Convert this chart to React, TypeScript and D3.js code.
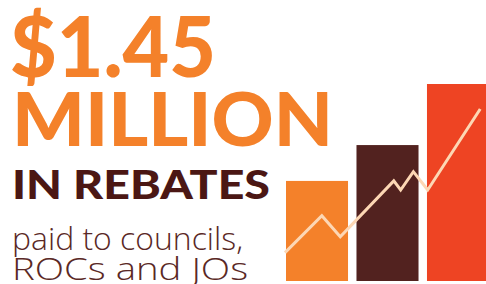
import React, { useRef, useEffect } from 'react';
import * as d3 from 'd3';

// bars (relative heights)
const categories = ['first', 'second', 'third'];
const barValues = [50.8, 69, 100];
const barColors = ['#F4812A', '#52221F', '#EE4423'];

// trend line over the bars
const lineX = [0, 18.8, 28.2, 55.5, 59, 65.5, 72.8, 99.6];
const lineY = [14.4, 33.1, 22.5, 50.8, 46.2, 55.5, 46.2, 87.3];

const W = 486;
const H = 284;

const App = () => {
  const svgRef = useRef<SVGSVGElement | null>(null);

  useEffect(() => {
    const svg = d3.select(svgRef.current);
    svg.selectAll('*').remove();

    const x = d3.scaleBand().domain(categories).range([286, 489]).paddingInner(0.12).paddingOuter(0);
    const y = d3.scaleLinear().domain([0, 100]).range([281, 84]);
    const lx = d3.scaleLinear().domain([0, 100]).range([285, 481]);

    svg.selectAll('rect.bar')
      .data(categories)
      .enter().append('rect')
      .attr('class', 'bar')
      .attr('x', d => x(d) as number)
      .attr('y', (d, i) => y(barValues[i]))
      .attr('width', x.bandwidth())
      .attr('height', (d, i) => y(0) - y(barValues[i]))
      .attr('fill', (d, i) => barColors[i]);

    const line = d3.line<number>()
      .x((d, i) => lx(lineX[i]))
      .y(d => y(d));

    svg.append('path')
      .attr('d', line(lineY))
      .attr('fill', 'none')
      .attr('stroke', '#FDD7B4')
      .attr('stroke-width', 3)
      .attr('stroke-linejoin', 'miter');

    // headline text
    const heavy = "Lato, 'Noto Sans', sans-serif";
    const light = "'Open Sans', Lato, sans-serif";
    const texts = [
      { t: '$1.45', x: 10, y: 77, size: 84, w: 206, weight: 900, color: '#F4812A', font: heavy },
      { t: 'MILLION', x: 12, y: 146, size: 74, w: 321, weight: 900, color: '#F4812A', font: heavy },
      { t: 'IN REBATES', x: 12, y: 199, size: 40, w: 258, weight: 900, color: '#4B1714', font: heavy },
      { t: 'paid to councils,', x: 12, y: 249.5, size: 31, w: 231, weight: 300, color: '#5A2825', font: light },
      { t: 'ROCs and JOs', x: 12, y: 279.5, size: 31, w: 236, weight: 300, color: '#5A2825', font: light },
    ];
    svg.selectAll('text.label')
      .data(texts)
      .enter().append('text')
      .attr('class', 'label')
      .attr('x', d => d.x)
      .attr('y', d => d.y)
      .attr('textLength', d => d.w)
      .attr('lengthAdjust', 'spacingAndGlyphs')
      .style('font-family', d => d.font)
      .style('font-size', d => `${d.size}px`)
      .style('font-weight', d => d.weight)
      .attr('fill', d => d.color)
      .text(d => d.t);
  }, []);

  return (
    <svg
      ref={svgRef}
      width={W}
      height={H}
      style={{ position: 'absolute', left: 0, top: 0, background: '#fff', overflow: 'hidden' }}
    />
  );
};

export default App;
